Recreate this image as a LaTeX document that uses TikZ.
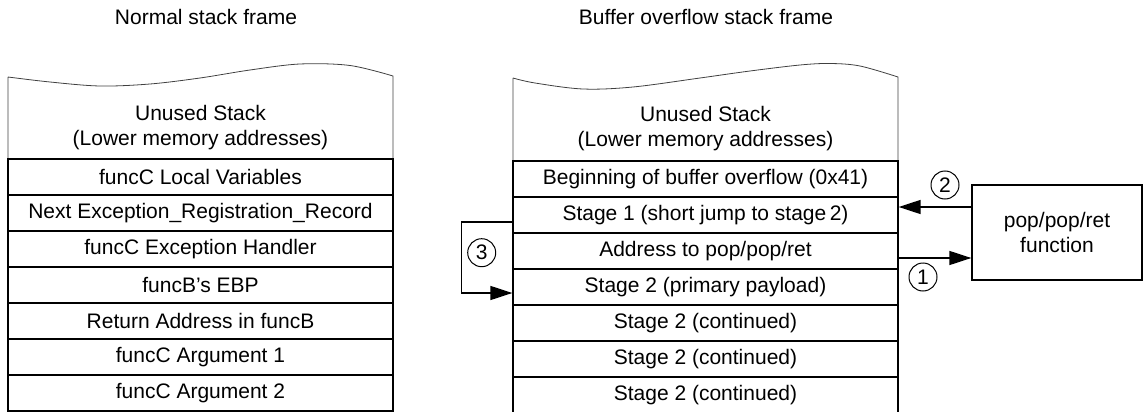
\documentclass[tikz,border=0pt]{standalone}
\usepackage{fontspec}
\setmainfont{Liberation Sans}
\usetikzlibrary{arrows.meta}
\begin{document}
\begin{tikzpicture}[x=1pt,y=-1pt,
  every node/.style={font=\fontsize{21}{25}\selectfont, text=black},
  cell/.style={draw, line width=1.3pt, minimum width=385pt, minimum height=36pt, inner sep=0pt},
  sideline/.style={line width=0.8pt, draw=black!75},
  arr/.style={line width=1.4pt, -{Triangle[length=22pt,width=14pt]}},
  num/.style={circle, draw, line width=1pt, minimum size=28pt, inner sep=0pt},
  title/.style={anchor=base}]
\useasboundingbox (0,0) rectangle (1143,412);
\clip (0,0) rectangle (1143,412);

% titles
\node[title] (t1) at (206,25) {Normal stack frame};
\node[title] (t2) at (706,25) {Buffer overflow stack frame};

% left stack: unused region
\draw[sideline] (8,159) -- (8,77)
  plot[smooth, tension=0.55] coordinates {(8,77) (50,82) (100,86) (150,84) (200,78) (250,70) (300,64) (350,65.5) (393,76)}
  -- (393,159);
\node[align=center] (lu) at (200.5,128) {Unused Stack\\(Lower memory addresses)};

\node[cell] (l1) at (200.5,177) {funcC Local Variables};
\node[cell] (l2) at (200.5,213) {Next Exception\_Registration\_Record};
\node[cell] (l3) at (200.5,249) {funcC Exception Handler};
\node[cell] (l4) at (200.5,285) {funcB’s EBP};
\node[cell] (l5) at (200.5,321) {Return Address in funcB};
\node[cell] (l6) at (200.5,357) {funcC Argument 1};
\node[cell] (l7) at (200.5,393) {funcC Argument 2};

% right stack: unused region
\draw[sideline] (513,161) -- (513,78)
  plot[smooth, tension=0.55] coordinates {(513,78) (535,83) (583,89) (633,87) (700,78) (750,71) (800,65) (830,63.5) (860,66) (898,77)}
  -- (898,161);
\node[align=center] (ru) at (705.5,129) {Unused Stack\\(Lower memory addresses)};

\node[cell] (r1) at (705.5,179) {Beginning of buffer overflow (0x41)};
\node[cell] (r2) at (705.5,215) {Stage 1 (short jump to stage\,2)};
\node[cell] (r3) at (705.5,251) {Address to pop/pop/ret};
\node[cell] (r4) at (705.5,287) {Stage 2 (primary payload)};
\node[cell] (r5) at (705.5,323) {Stage 2 (continued)};
\node[cell] (r6) at (705.5,359) {Stage 2 (continued)};
\node[cell] (r7) at (705.5,395) {Stage 2 (continued)};

% pop/pop/ret function box
\node[draw, line width=1.3pt, minimum width=170pt, minimum height=95pt, align=center, inner sep=0pt] (pop) at (1057,232.5) {pop/pop/ret\\function};

% arrows
\path ([yshift=25.5pt]pop.west) coordinate (a2s);
\draw[arr] (a2s) -- (a2s -| r2.east);
\path ([yshift=-25.5pt]pop.west) coordinate (a1e);
\draw[arr] (a1e -| r3.east) -- (a1e);
\path ([yshift=-7pt]r2.west) coordinate (s3);
\path ([yshift=-6pt]r4.west) coordinate (e3);
\draw[arr] (s3) -- ++(-51,0) |- (e3);

% numbered circles
\node[num] (c3) at (481.7,252.7) {3};
\node[num] (c2) at (945,185) {2};
\node[num] (c1) at (923,277) {1};
\end{tikzpicture}
\end{document}
